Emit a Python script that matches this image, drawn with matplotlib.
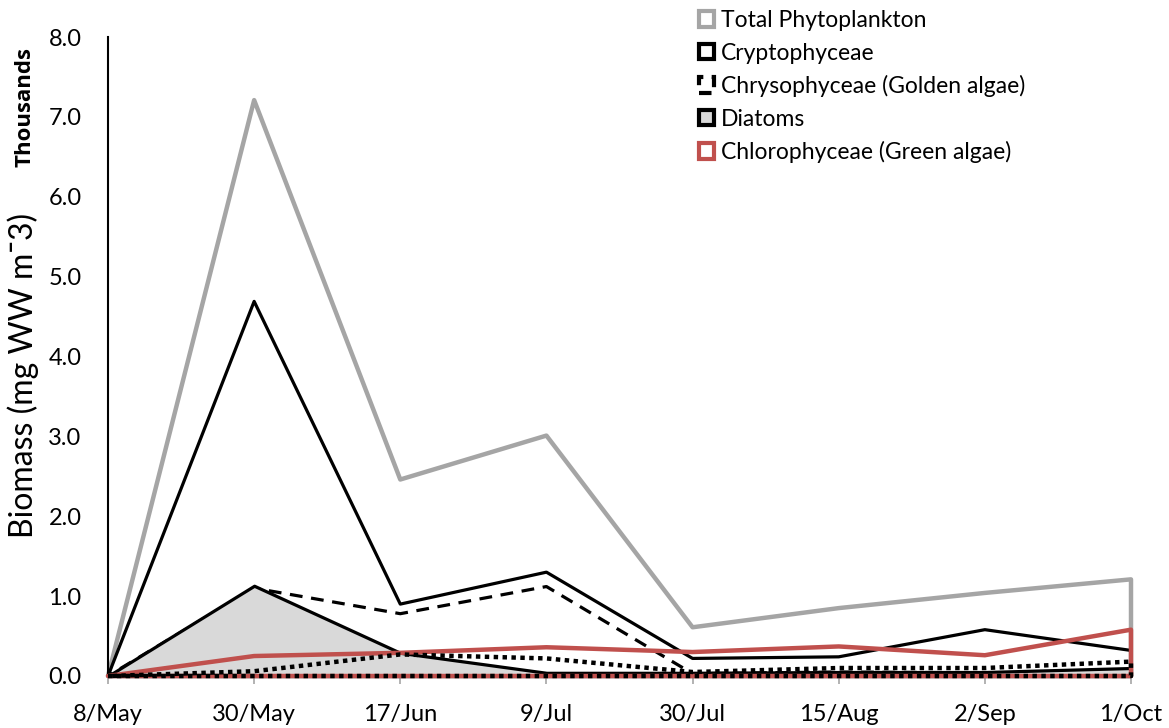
import matplotlib
matplotlib.use("Agg")
import matplotlib.pyplot as plt
from matplotlib.patches import Patch

plt.rcParams['font.family'] = ['Lato', 'DejaVu Sans']

dates = ["8/May", "30/May", "17/Jun", "9/Jul", "30/Jul", "15/Aug", "2/Sep", "1/Oct"]
total = [0.0, 7.21, 2.46, 3.01, 0.61, 0.85, 1.04, 1.21]
crypto = [0.0, 4.69, 0.90, 1.30, 0.22, 0.24, 0.58, 0.32]
chryso = [0.0, 1.10, 0.78, 1.12, 0.03, 0.05, 0.04, 0.05]
diatoms = [0.0, 1.13, 0.29, 0.04, 0.04, 0.05, 0.05, 0.10]
chloro = [0.0, 0.25, 0.29, 0.36, 0.30, 0.37, 0.26, 0.58]
other = [0.0, 0.06, 0.27, 0.22, 0.05, 0.10, 0.10, 0.18]
yticks = [0.0, 1.0, 2.0, 3.0, 4.0, 5.0, 6.0, 7.0, 8.0]

GRAY = "#A5A5A5"
RED = "#C0504D"
FILL = "#D9D9D9"

fig = plt.figure(figsize=(11.69, 7.28), dpi=100)
ax = fig.add_axes([108/1169, 1-676/728, (1131-108)/1169, (676-37)/728])
x = list(range(len(dates)))

ax.fill_between(x, 0, total, facecolor="none", edgecolor=GRAY, linewidth=3.2, clip_on=False, zorder=2)
ax.fill_between(x, 0, crypto, facecolor="none", edgecolor="black", linewidth=2.3, clip_on=False, zorder=3)
ax.fill_between(x, 0, chryso, facecolor="none", edgecolor="black", linewidth=2.3,
                linestyle=(0, (4, 2.7)), clip_on=False, zorder=4)
ax.fill_between(x, 0, diatoms, facecolor=FILL, edgecolor="black", linewidth=2.3, clip_on=False, zorder=5)
ax.fill_between(x, 0, chloro, facecolor="none", edgecolor=RED, linewidth=3.2, clip_on=False, zorder=6)
ax.fill_between(x, 0, other, facecolor="none", edgecolor="black", linewidth=3.2,
                linestyle=(0, (1, 1)), clip_on=False, zorder=7)

ax.set_xlim(0, len(dates) - 1)
ax.set_ylim(0, 8)
ax.set_xticks(x)
ax.set_xticklabels(dates, fontsize=17)
ax.set_yticks(yticks)
ax.set_yticklabels([f"{v:.1f}" for v in yticks], fontsize=17)
ax.tick_params(axis="y", length=0, pad=19)
ax.tick_params(axis="x", length=6, color=GRAY, width=1.2, pad=14)
for s in ["top", "right"]:
    ax.spines[s].set_visible(False)
ax.spines["left"].set_color("black")
ax.spines["left"].set_linewidth(1.5)
ax.spines["bottom"].set_color(GRAY)
ax.spines["bottom"].set_linewidth(1.2)

fig.text(23/1169, 1-375/728, "Biomass (mg WW m\u00af3)", rotation=90, fontsize=23,
         ha="center", va="center")
fig.text(25/1169, 1-107/728, "Thousands", rotation=90, fontsize=16, fontweight="bold",
         family=["Open Sans", "DejaVu Sans"], ha="center", va="center")

handles = [
    Patch(facecolor="white", edgecolor=GRAY, linewidth=3, label="Total Phytoplankton"),
    Patch(facecolor="white", edgecolor="black", linewidth=3, label="Cryptophyceae"),
    Patch(facecolor="white", edgecolor="black", linewidth=3, linestyle=(0, (3, 2)),
          label="Chrysophyceae (Golden algae)"),
    Patch(facecolor=FILL, edgecolor="black", linewidth=3, label="Diatoms"),
    Patch(facecolor="white", edgecolor=RED, linewidth=3, label="Chlorophyceae (Green algae)"),
]
fig.legend(handles=handles, loc="upper left", bbox_to_anchor=(690/1169, 1-1/728),
           frameon=False, fontsize=16.5, handlelength=0.65, handleheight=0.65,
           handletextpad=0.3, labelspacing=0.5, borderaxespad=0)

fig.savefig("out.png", dpi=100)
